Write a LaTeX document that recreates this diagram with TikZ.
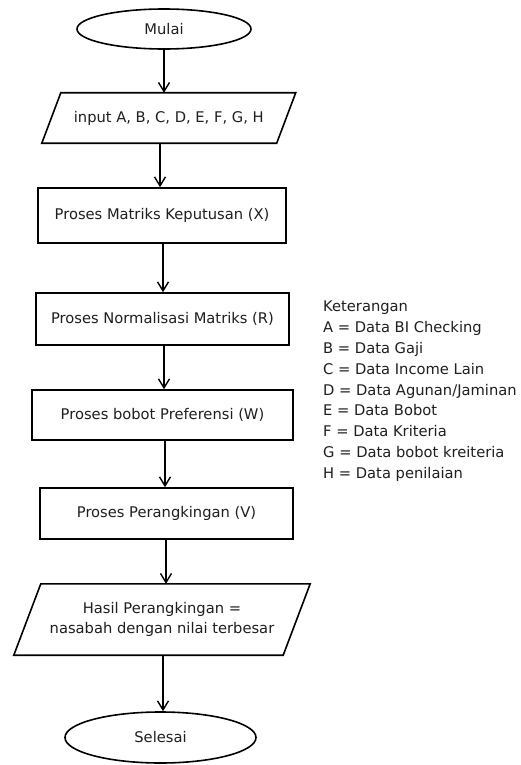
\documentclass[tikz,border=0pt]{standalone}
\usepackage{fontspec}
\setmainfont{DejaVu Sans}
\usetikzlibrary{shapes.geometric,arrows.meta,calc}
\tikzset{
  txt/.style={font=\fontsize{14.7}{20}\selectfont, text=black!88},
  term/.style={txt, ellipse, draw, line width=1.6pt, inner sep=0pt},
  procbox/.style={txt, rectangle, draw, line width=1.6pt, inner sep=0pt},
  iobox/.style={txt, rectangle, inner sep=0pt, align=center},
  ioline/.style={line width=1.6pt, line join=miter},
  arr/.style={line width=1.4pt, -{Straight Barb[length=9pt,width=11pt,line width=1.4pt]}},
  legend/.style={txt, anchor=base west, inner sep=0pt}
}
\begin{document}
\begin{tikzpicture}[x=1pt,y=-1pt]
\useasboundingbox (0,0) rectangle (520,765);
\fill[white] (0,0) rectangle (520,765);

\node[term, minimum width=174pt, minimum height=40pt] (mulai) at (164,29) {Mulai};

\node[iobox, minimum width=234.5pt, minimum height=50pt] (in) at (168.75,118) {input A, B, C, D, E, F, G, H};
\draw[ioline] ([xshift=9.5pt]in.north west) -- ([xshift=9.5pt]in.north east) -- ([xshift=-9.5pt]in.south east) -- ([xshift=-9.5pt]in.south west) -- cycle;

\node[procbox, minimum width=248pt, minimum height=55pt] (b1) at (162,215.5) {Proses Matriks Keputusan (X)};
\node[procbox, minimum width=253pt, minimum height=52pt] (b2) at (162.5,319) {Proses Normalisasi Matriks (R)};
\node[procbox, minimum width=261pt, minimum height=50pt] (b3) at (162.5,415) {Proses bobot Preferensi (W)};
\node[procbox, minimum width=253pt, minimum height=51pt] (b4) at (166.5,513.5) {Proses Perangkingan (V)};

\node[iobox, minimum width=269pt, minimum height=71pt] (out) at (162,619.5) {Hasil Perangkingan =\\nasabah dengan nilai terbesar};
\draw[ioline] ([xshift=13.5pt]out.north west) -- ([xshift=13.5pt]out.north east) -- ([xshift=-13.5pt]out.south east) -- ([xshift=-13.5pt]out.south west) -- cycle;

\node[term, minimum width=191pt, minimum height=51pt] (sel) at (160.5,737.5) {Selesai};

\draw[arr] (mulai) -- (mulai |- in.north);
\draw[arr] ([xshift=-8.75pt]in.south) -- ([xshift=-8.75pt]in.south |- b1.north);
\draw[arr] ([xshift=1pt]b1.south) -- ([xshift=1pt]b1.south |- b2.north);
\draw[arr] ([xshift=1.5pt]b2.south) -- ([xshift=1.5pt]b2.south |- b3.north);
\draw[arr] ([xshift=2.5pt]b3.south) -- ([xshift=2.5pt]b3.south |- b4.north);
\draw[arr] ([xshift=-0.5pt]b4.south) -- ([xshift=-0.5pt]b4.south |- out.north);
\draw[arr] ([xshift=1pt]out.south) -- ([xshift=1pt]out.south |- sel.north);

\node[legend] (k0) at (323,311) {Keterangan};
\node[legend] (k1) at (323,332) {A = Data BI Checking};
\node[legend] (k2) at (323,353) {B = Data Gaji};
\node[legend] (k3) at (323,374) {C = Data Income Lain};
\node[legend] (k4) at (323,395) {D = Data Agunan/Jaminan};
\node[legend] (k5) at (323,415) {E = Data Bobot};
\node[legend] (k6) at (323,436) {F = Data Kriteria};
\node[legend] (k7) at (323,457) {G = Data bobot kreiteria};
\node[legend] (k8) at (323,478) {H = Data penilaian};
\end{tikzpicture}
\end{document}
